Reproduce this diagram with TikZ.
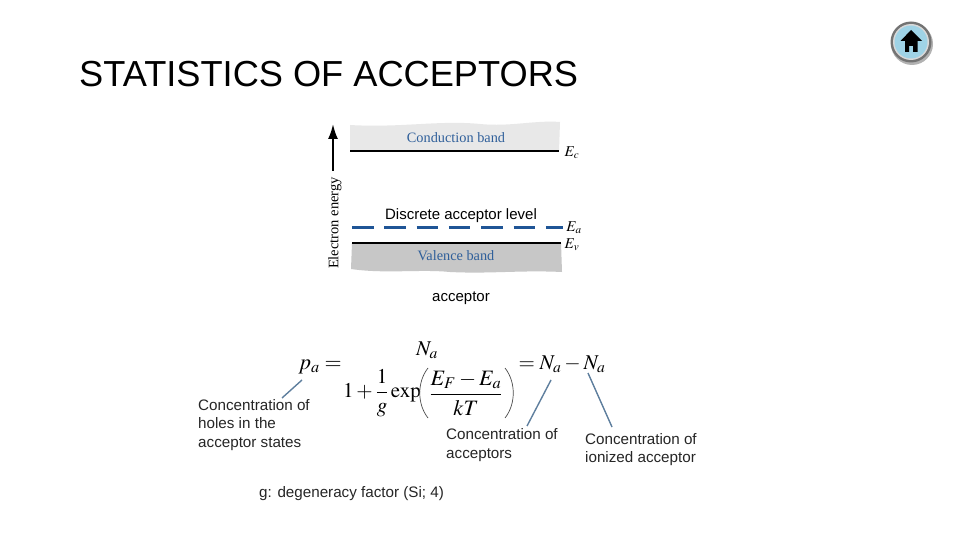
\documentclass[tikz,border=0pt]{standalone}
\usepackage{amsmath,amssymb}
\usepackage{mathptmx}
\usepackage[no-math]{fontspec}
\setmainfont{Liberation Sans}
\newfontfamily\timesfont{Liberation Serif}
\usepackage{tikz}
\usetikzlibrary{arrows.meta,positioning,calc}
\usepackage{xcolor}
\definecolor{bandblue}{HTML}{2F5F9A}
\definecolor{levelblue}{HTML}{1F5596}
\definecolor{leaderblue}{HTML}{5F7F9E}
\definecolor{buttonblue}{HTML}{9FD3E6}

\begin{document}
\begin{tikzpicture}[x=1pt,y=-1pt,
    slidetext/.style={inner sep=0pt,font=\fontsize{15.2}{18.5}\selectfont,align=left,anchor=west,text=black!85},
    bandtext/.style={inner sep=0pt,text=bandblue,font=\timesfont\fontsize{14.3}{16}\selectfont},
    leader/.style={leaderblue,line width=1.4pt},
    eqn/.style={inner sep=0pt}]
    \useasboundingbox (0,0) rectangle (960,540);
    \fill[white] (0,0) rectangle (960,540);
    \node[inner sep=0pt,anchor=west,font=\fontsize{36.2}{40}\selectfont] (title) at (79,74.5) {STATISTICS OF ACCEPTORS};
    % home button
    \fill[black!30] (912,44) circle (21);
    \fill[black!55] (911,42) circle (20.5);
    \fill[black!15] (911,42) circle (18);
    \fill[buttonblue] (911,42) circle (16.5);
    \fill[black] (911,30) -- (922,41) -- (917.5,41) -- (917.5,52) -- (913,52) -- (913,46) -- (909,46) -- (909,52) -- (905,52) -- (905,41) -- (900.5,41) -- cycle;
    % bands
    \fill[black!9] (350,125) .. controls (400,128) and (440,120) .. (480,124) .. controls (510,127) and (535,120) .. (560,122) -- (559,151) -- (350,151) -- cycle;
    \fill[black!22] (352,243) -- (561,243) -- (562,272) .. controls (520,270) and (490,274) .. (450,272) .. controls (420,269) and (385,274) .. (351,269) -- cycle;
    \coordinate (arrow base) at (333,171);
    \coordinate (arrow tip) at (333,124);
    \draw[line width=2pt,-{Latex[length=15pt,width=10pt]}] (arrow base) -- (arrow tip);
    \node[inner sep=0pt,rotate=90,font=\timesfont\fontsize{14.5}{16}\selectfont] (energy) at (335,223) {Electron energy};
    \coordinate (Ec left) at (350,151);
    \coordinate (Ec right) at (559,151);
    \draw[line width=1.2pt] (Ec left) -- (Ec right);
    \coordinate (Ev left) at (352,243);
    \coordinate (Ev right) at (561,243);
    \draw[line width=1.2pt] (Ev left) -- (Ev right);
    \coordinate (Ea left) at (352,227);
    \coordinate (Ea right) at (563,227);
    \draw[levelblue,line width=3pt,dash pattern=on 21.5pt off 10.8pt] (Ea left) -- (Ea right);
    \node[bandtext] (conduction) at (456,138) {Conduction band};
    \node[bandtext] (valence) at (456,255.5) {Valence band};
    \node[inner sep=0pt,font=\fontsize{15}{18}\selectfont] (discrete) at (461,216) {Discrete acceptor level};
    \node[eqn] (Ec) at (572,153) {\fontsize{15}{15}\selectfont $E_c$};
    \node[eqn] (Ea) at (574,228) {\fontsize{15}{15}\selectfont $E_a$};
    \node[eqn] (Ev) at (572,245) {\fontsize{15}{15}\selectfont $E_v$};
    \node[inner sep=0pt,font=\fontsize{15}{18}\selectfont] (acceptor) at (461,298) {acceptor};
    % equation, set in pieces
    \begin{scope}[font=\fontsize{21}{24}\selectfont]
        \node[eqn] (pa) at (320,367) {\fontsize{22}{24}\selectfont $p_a=$};
        \node[eqn] (Na top) at (427,350) {$N_a$};
        \node[eqn] (exp part) at (382,393) {$1+\dfrac{1}{g}\exp$};
        \node[eqn] (exponent) at (466,393) {\fontsize{22}{26}\selectfont $\dfrac{E_F-E_a}{kT}$};
        \node[eqn] (rhs) at (562,364) {$=N_a-N_a$};
    \end{scope}
    \draw[line width=0.7pt,black!70] (428,368) .. controls (417,382) and (417,404) .. (428,418);
    \draw[line width=0.7pt,black!70] (505,368) .. controls (516,382) and (516,404) .. (505,418);
    % leaders
    \coordinate (pa end) at (302,380);
    \coordinate (pa label end) at (282,398);
    \coordinate (Na end) at (551,380);
    \coordinate (Na label end) at (527,426);
    \coordinate (ionized end) at (588,373);
    \coordinate (ionized label end) at (612,427);
    \draw[leader] (pa end) -- (pa label end);
    \draw[leader] (Na end) -- (Na label end);
    \draw[leader] (ionized end) -- (ionized label end);
    \node[slidetext] (holes) at (198,425) {Concentration of\\holes in the\\acceptor states};
    \node[slidetext] (acceptors) at (446,445) {Concentration of\\acceptors};
    \node[slidetext] (ionized) at (585,449.5) {Concentration of\\ionized acceptor};
    \node[slidetext] (degeneracy) at (259,494) {g: degeneracy factor (Si; 4)};
\end{tikzpicture}
\end{document}
